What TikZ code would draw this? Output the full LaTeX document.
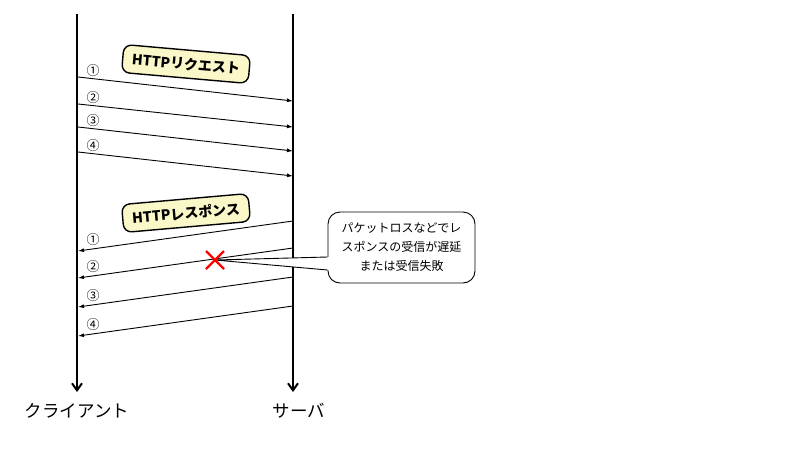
\documentclass[tikz,border=0pt]{standalone}
\usepackage{fontspec}
\setmainfont{Noto Sans CJK JP}
\usetikzlibrary{arrows.meta}
\definecolor{tagfill}{HTML}{FAF7C8}
\tikzset{
  lifeline/.style={line width=2.6pt,-{Straight Barb[length=7pt,width=10pt,line width=2pt]}},
  msg/.style={line width=0.9pt,-{Latex[length=6pt,width=4pt]}},
  num/.style={font=\fontsize{13}{13}\selectfont,inner sep=0pt},
  tag/.style={draw,line width=1.4pt,rounded corners=8pt,fill=tagfill,minimum width=127pt,minimum height=28pt,font=\fontsize{14}{14}\selectfont\bfseries,inner sep=2pt},
  callout/.style={draw,line width=0.9pt,rounded corners=12pt,fill=white,minimum width=147pt,minimum height=71pt,align=center,font=\fontsize{12}{19}\selectfont},
  actor/.style={font=\fontsize{17.5}{17.5}\selectfont,inner sep=0pt}
}
\begin{document}
\begin{tikzpicture}[x=1pt,y=-1pt]
\useasboundingbox (0,0) rectangle (800,450);
% lifelines
\coordinate (ctop) at (77,14);
\coordinate (cbot) at (77,392);
\coordinate (stop) at (293,14);
\coordinate (sbot) at (293,392);
\draw[lifeline] (ctop) -- (cbot);
\draw[lifeline] (stop) -- (sbot);
\node[actor] (client) at (77,411) {クライアント};
\node[actor] (server) at (299,411) {サーバ};
% request
\node[tag,rotate=-5] (req) at (186,64) {HTTPリクエスト};
\foreach \i/\a/\b/\n in {1/77/101/①,2/104/127/②,3/127/151/③,4/152/176/④}{
  \coordinate (qa\i) at (78,\a);
  \coordinate (qb\i) at (293,\b);
  \draw[msg] (qa\i) -- (qb\i);
  \node[num] (qn\i) at (93,\a-6) {\n};
}
% response
\node[tag,rotate=5] (res) at (186,213) {HTTPレスポンス};
\foreach \i/\a/\b/\n in {1/221/251/①,2/248/278/②,3/277/307/③,4/306/336/④}{
  \coordinate (ra\i) at (293,\a);
  \coordinate (rb\i) at (78,\b);
  \draw[msg] (ra\i) -- (rb\i);
  \node[num] (rn\i) at (93,\b-11) {\n};
}
% callout
\node[callout] (note) at (401.5,247.5) {パケットロスなどでレ\\スポンスの受信が遅延\\または受信失敗};
\coordinate (xc) at (215,260);
\coordinate (p1) at (note.west |- 0,257);
\coordinate (p2) at (note.west |- 0,270);
\fill[white] (xc) -- ([xshift=1.5pt]p1) -- ([xshift=1.5pt]p2) -- cycle;
\draw[line width=0.9pt] (p1) -- (xc) -- (p2);
% cross
\draw[red,line width=2.4pt] (206,251) -- (224,269) (224,251) -- (206,269);
\end{tikzpicture}
\end{document}
